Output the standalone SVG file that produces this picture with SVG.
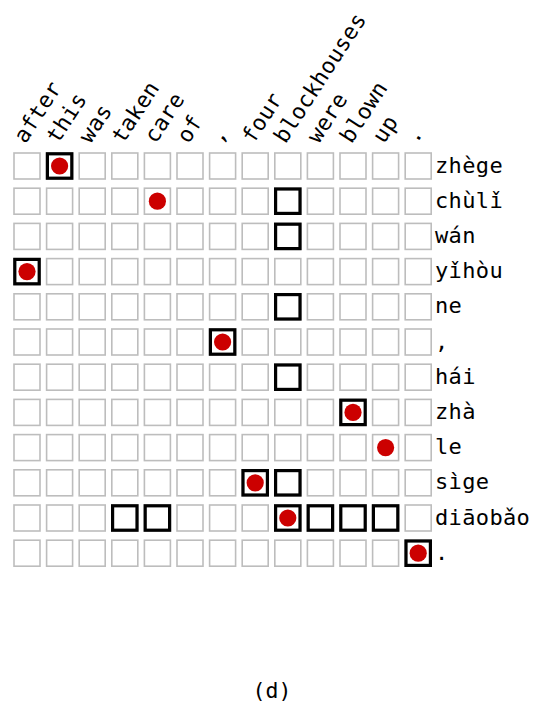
<svg xmlns="http://www.w3.org/2000/svg" xmlns:xlink="http://www.w3.org/1999/xlink" width="541" height="705" viewBox="0 0 541 705">
<style>
.cell{fill:#fff;stroke:#bdbdbd;stroke-width:1.6}
.hl{fill:none;stroke:#000;stroke-width:3.2}
.dot{fill:#cc0000}
.lbl{font-family:"DejaVu Sans Mono","Liberation Mono",monospace;font-size:22px;letter-spacing:0.35px;fill:#000}
</style>
<defs>
<g id="gridrow">
<rect class="cell" x="14" y="0" width="26" height="26"/>
<rect class="cell" x="46.6" y="0" width="26" height="26"/>
<rect class="cell" x="79.2" y="0" width="26" height="26"/>
<rect class="cell" x="111.8" y="0" width="26" height="26"/>
<rect class="cell" x="144.4" y="0" width="26" height="26"/>
<rect class="cell" x="177" y="0" width="26" height="26"/>
<rect class="cell" x="209.6" y="0" width="26" height="26"/>
<rect class="cell" x="242.2" y="0" width="26" height="26"/>
<rect class="cell" x="274.8" y="0" width="26" height="26"/>
<rect class="cell" x="307.4" y="0" width="26" height="26"/>
<rect class="cell" x="340" y="0" width="26" height="26"/>
<rect class="cell" x="372.6" y="0" width="26" height="26"/>
<rect class="cell" x="405.2" y="0" width="26" height="26"/>
</g>
<rect id="hb" class="hl" x="0.8" y="0.8" width="24.4" height="24.4"/>
</defs>
<g id="grid">
<use xlink:href="#gridrow" y="153"/>
<use xlink:href="#gridrow" y="188.2"/>
<use xlink:href="#gridrow" y="223.4"/>
<use xlink:href="#gridrow" y="258.6"/>
<use xlink:href="#gridrow" y="293.8"/>
<use xlink:href="#gridrow" y="329"/>
<use xlink:href="#gridrow" y="364.2"/>
<use xlink:href="#gridrow" y="399.4"/>
<use xlink:href="#gridrow" y="434.6"/>
<use xlink:href="#gridrow" y="469.8"/>
<use xlink:href="#gridrow" y="505"/>
<use xlink:href="#gridrow" y="540.2"/>
</g>
<g id="highlights">
<use xlink:href="#hb" x="46.6" y="153"/>
<use xlink:href="#hb" x="274.8" y="188.2"/>
<use xlink:href="#hb" x="274.8" y="223.4"/>
<use xlink:href="#hb" x="14" y="258.6"/>
<use xlink:href="#hb" x="274.8" y="293.8"/>
<use xlink:href="#hb" x="209.6" y="329"/>
<use xlink:href="#hb" x="274.8" y="364.2"/>
<use xlink:href="#hb" x="340" y="399.4"/>
<use xlink:href="#hb" x="242.2" y="469.8"/>
<use xlink:href="#hb" x="274.8" y="469.8"/>
<use xlink:href="#hb" x="111.8" y="505"/>
<use xlink:href="#hb" x="144.4" y="505"/>
<use xlink:href="#hb" x="274.8" y="505"/>
<use xlink:href="#hb" x="307.4" y="505"/>
<use xlink:href="#hb" x="340" y="505"/>
<use xlink:href="#hb" x="372.6" y="505"/>
<use xlink:href="#hb" x="405.2" y="540.2"/>
</g>
<g id="dots">
<circle class="dot" cx="59.6" cy="166" r="8.6"/>
<circle class="dot" cx="157.4" cy="201.2" r="8.6"/>
<circle class="dot" cx="27" cy="271.6" r="8.6"/>
<circle class="dot" cx="222.6" cy="342" r="8.6"/>
<circle class="dot" cx="353" cy="412.4" r="8.6"/>
<circle class="dot" cx="385.6" cy="447.6" r="8.6"/>
<circle class="dot" cx="255.2" cy="482.8" r="8.6"/>
<circle class="dot" cx="287.8" cy="518" r="8.6"/>
<circle class="dot" cx="418.2" cy="553.2" r="8.6"/>
</g>
<g id="col-labels">
<text class="lbl" transform="translate(25.4,144.5) rotate(-57)">after</text>
<text class="lbl" transform="translate(58,144.5) rotate(-57)">this</text>
<text class="lbl" transform="translate(90.6,144.5) rotate(-57)">was</text>
<text class="lbl" transform="translate(123.2,144.5) rotate(-57)">taken</text>
<text class="lbl" transform="translate(155.8,144.5) rotate(-57)">care</text>
<text class="lbl" transform="translate(188.4,144.5) rotate(-57)">of</text>
<text class="lbl" transform="translate(221,144.5) rotate(-57)">,</text>
<text class="lbl" transform="translate(253.6,144.5) rotate(-57)">four</text>
<text class="lbl" transform="translate(285.6,144.5) rotate(-57)">blockhouses</text>
<text class="lbl" transform="translate(318.8,144.5) rotate(-57)">were</text>
<text class="lbl" transform="translate(351.4,144.5) rotate(-57)">blown</text>
<text class="lbl" transform="translate(384,144.5) rotate(-57)">up</text>
<text class="lbl" transform="translate(416.6,144.5) rotate(-57)">.</text>
</g>
<g id="row-labels">
<text class="lbl" x="435" y="172.5">zhège</text>
<text class="lbl" x="435" y="207.7">chùlǐ</text>
<text class="lbl" x="435" y="242.9">wán</text>
<text class="lbl" x="435" y="278.1">yǐhòu</text>
<text class="lbl" x="435" y="313.3">ne</text>
<text class="lbl" x="435" y="348.5">,</text>
<text class="lbl" x="435" y="383.7">hái</text>
<text class="lbl" x="435" y="418.9">zhà</text>
<text class="lbl" x="435" y="454.1">le</text>
<text class="lbl" x="435" y="489.3">sìge</text>
<text class="lbl" x="435" y="524.5">diāobǎo</text>
<text class="lbl" x="435" y="559.7">.</text>
</g>
<text id="caption" class="lbl" x="272" y="698" text-anchor="middle" style="font-size:21.5px;letter-spacing:0">(d)</text>
</svg>
